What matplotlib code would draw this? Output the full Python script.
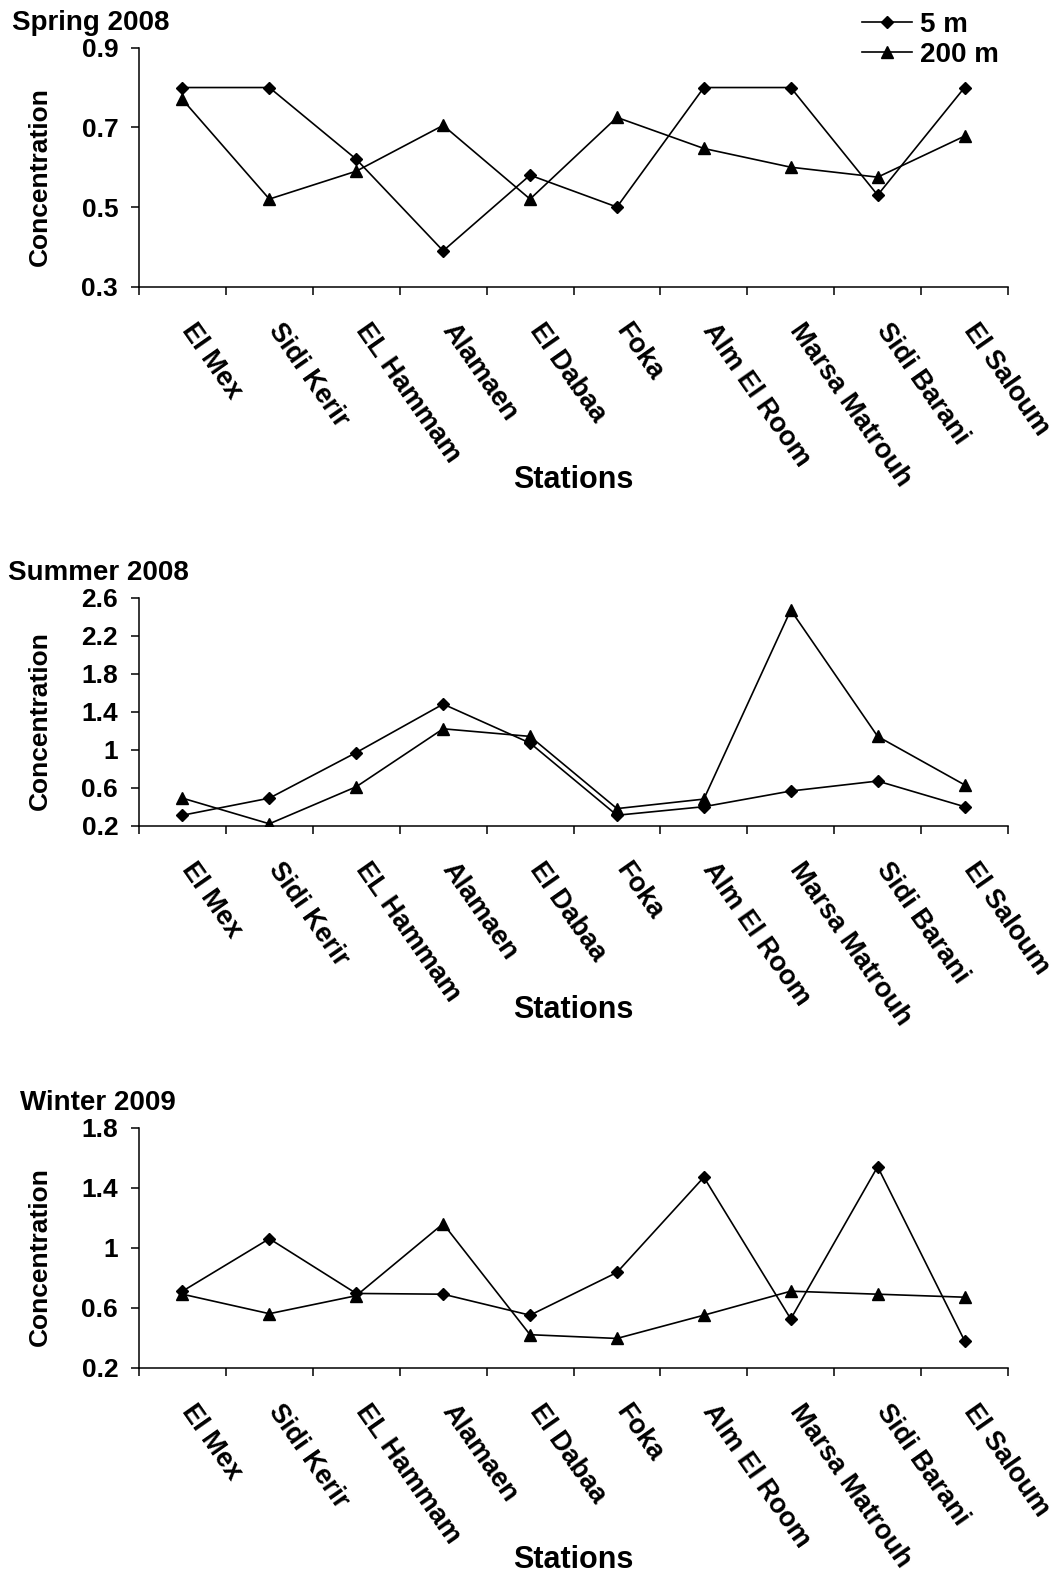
import numpy as np
import matplotlib
matplotlib.use("Agg")
import matplotlib.pyplot as plt
import matplotlib.transforms as mtransforms
from matplotlib.ticker import FuncFormatter

plt.rcParams['font.family'] = ['Liberation Sans', 'DejaVu Sans']
plt.rcParams['font.weight'] = 'bold'

stations = ["El Mex", "Sidi Kerir", "EL Hammam", "Alamaen", "El Dabaa", "Foka",
            "Alm El Room", "Marsa Matrouh", "Sidi Barani", "El Saloum"]

spring_5m = [0.80, 0.80, 0.62, 0.39, 0.58, 0.50, 0.80, 0.80, 0.53, 0.80]
spring_200m = [0.77, 0.52, 0.59, 0.705, 0.52, 0.725, 0.647, 0.60, 0.575, 0.678]

summer_5m = [0.31, 0.49, 0.97, 1.48, 1.07, 0.31, 0.40, 0.565, 0.67, 0.40]
summer_200m = [0.49, 0.22, 0.61, 1.22, 1.14, 0.38, 0.48, 2.47, 1.14, 0.63]

winter_5m = [0.71, 1.06, 0.695, 0.69, 0.55, 0.835, 1.47, 0.525, 1.54, 0.38]
winter_200m = [0.69, 0.56, 0.68, 1.16, 0.42, 0.395, 0.55, 0.71, 0.69, 0.67]

titles = ["Spring 2008", "Summer 2008", "Winter 2009"]
ylims = [(0.3, 0.9), (0.2, 2.6), (0.2, 1.8)]
yticks = [[0.3, 0.5, 0.7, 0.9], [0.2, 0.6, 1, 1.4, 1.8, 2.2, 2.6], [0.2, 0.6, 1, 1.4, 1.8]]
data = [(spring_5m, spring_200m), (summer_5m, summer_200m), (winter_5m, winter_200m)]

W, H = 1057, 1573
fig = plt.figure(figsize=(W / 100, H / 100), dpi=100)

# pixel layout: (top of axis, bottom of axis, title x, "Stations" offset)
panels = [(47.7, 286.7, 12, 201), (597.7, 825.7, 8, 192), (1127.7, 1367.7, 20, 200)]
left, right = 139, 1008
x = np.arange(len(stations))
# station labels: anchor moved right/down from the category centre (pixels / 100)
lab_off = mtransforms.ScaledTranslation(15 / 100, -32 / 100, fig.dpi_scale_trans)

for i in range(3):
    top, bot, tx, soff = panels[i]
    ax = fig.add_axes([left / W, 1 - bot / H, (right - left) / W, (bot - top) / H])
    y5, y200 = data[i]
    l1, = ax.plot(x, y5, color='black', lw=1.2, marker='D', ms=6.5, label='5 m')
    l2, = ax.plot(x, y200, color='black', lw=1.2, marker='^', ms=8.5, label='200 m')
    ax.set_xlim(-0.5, 9.5)
    ax.set_ylim(*ylims[i])
    ax.set_yticks(yticks[i])
    ax.yaxis.set_major_formatter(FuncFormatter(lambda v, p: '%g' % v))
    ax.spines['top'].set_visible(False)
    ax.spines['right'].set_visible(False)
    for s in ['left', 'bottom']:
        ax.spines[s].set_linewidth(1.1)
    ax.set_xticks(np.arange(-0.5, 10, 1))
    ax.set_xticklabels([])
    for j, name in enumerate(stations):
        ax.text(x[j], 0, name, transform=ax.get_xaxis_transform() + lab_off,
                rotation=-55, ha='left', va='top', rotation_mode='anchor',
                fontsize=19.5, fontweight='bold')
    ax.tick_params(axis='x', which='major', direction='out', length=6, width=1.1)
    ax.tick_params(axis='y', direction='out', length=6, width=1.1, pad=9, labelsize=19)
    for lab in ax.get_yticklabels():
        lab.set_fontweight('bold')
    ax.patch.set_visible(False)

    fig.text(tx / W, 1 - (top - 17.7) / H, titles[i], fontsize=20, fontweight='bold',
             ha='left', va='baseline')
    fig.text(40 / W, 1 - ((top + bot) / 2 + 9) / H, "Concentration", fontsize=19,
             fontweight='bold', rotation=90, ha='center', va='center')
    fig.text((left + right) / 2 / W, 1 - (bot + soff) / H, "Stations", fontsize=22,
             fontweight='bold', ha='center', va='baseline')

    if i == 0:
        fig.legend(handles=[l1, l2], loc='upper left', bbox_to_anchor=(862 / W, 1 - 12 / H),
                   frameon=False, handlelength=1.8, handletextpad=0.3,
                   labelspacing=0.15, borderpad=0, borderaxespad=0,
                   prop={'weight': 'bold', 'size': 20})

fig.savefig("out.png", dpi=100)
